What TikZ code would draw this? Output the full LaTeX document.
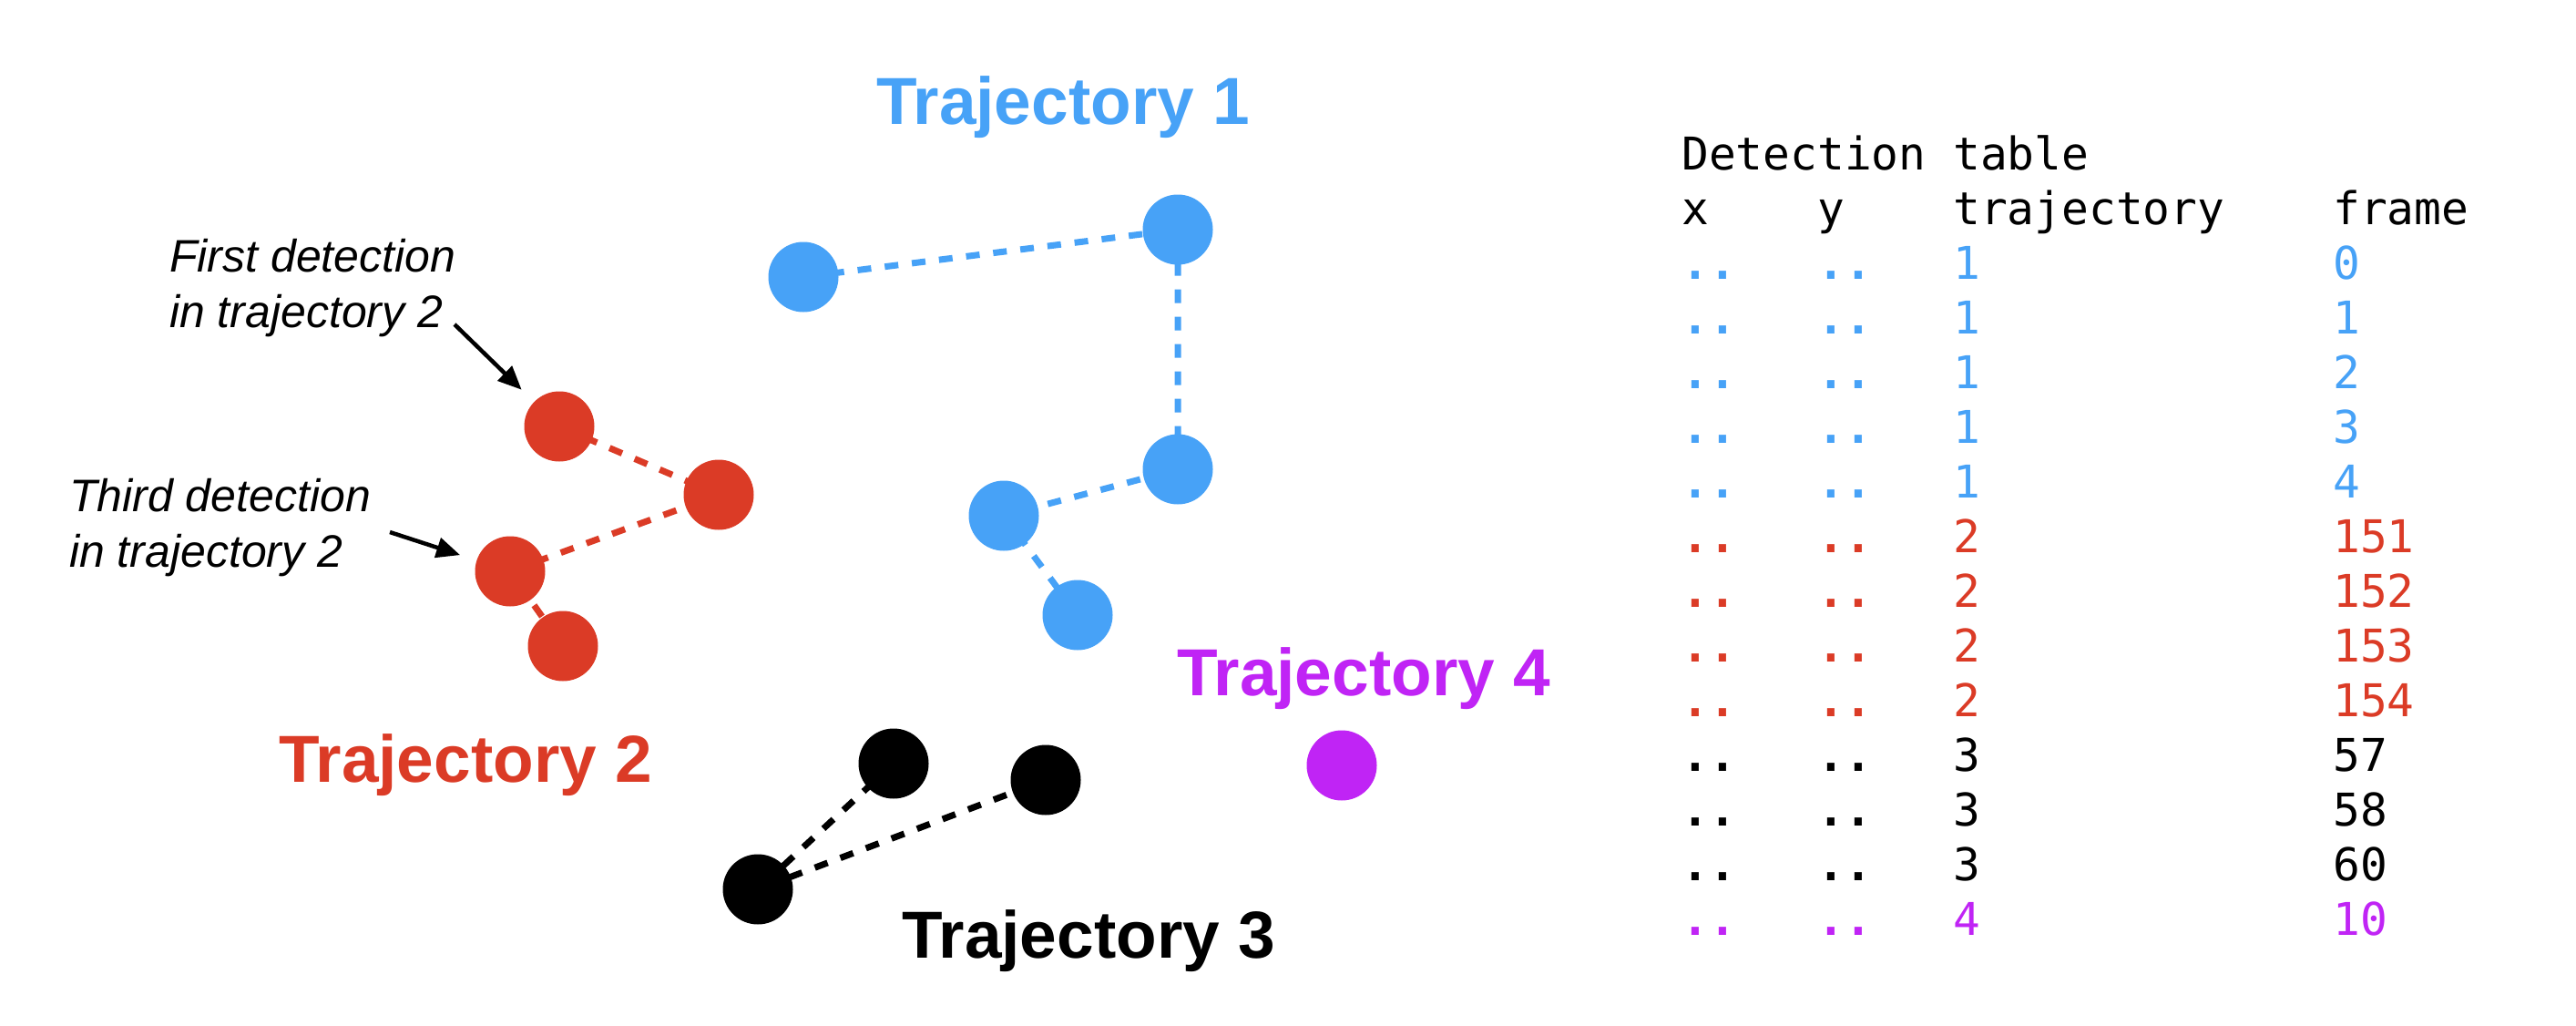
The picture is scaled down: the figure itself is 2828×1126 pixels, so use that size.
\documentclass[tikz,border=0pt]{standalone}
\usepackage{fontspec}
\setmainfont{Liberation Sans}
\newfontfamily\monof{DejaVu Sans Mono}
\usetikzlibrary{arrows.meta}
\definecolor{tblue}{HTML}{47A2F7}
\definecolor{tred}{HTML}{DB3B26}
\definecolor{tblack}{HTML}{000000}
\definecolor{tpurple}{HTML}{C024F5}
\begin{document}
\begin{tikzpicture}[x=1pt,y=-1pt,
  dot/.style={circle, inner sep=0pt, minimum size=77pt},
  link/.style={line width=7pt, dash pattern=on 15pt off 15pt},
  traj/.style={font=\fontsize{73}{88}\selectfont\bfseries, anchor=base, inner sep=0pt},
  note/.style={font=\fontsize{50}{61}\selectfont\itshape, anchor=base west, inner sep=0pt},
  tab/.style={font=\monof\fontsize{49.5}{60}\selectfont, anchor=base west, inner sep=0pt},
  arr/.style={line width=4.5pt, -{Triangle[length=26pt,width=22pt]}, shorten >=19pt}]
\useasboundingbox[fill=white] (0,0) rectangle (2828,1126);

% points
\coordinate (b1c) at (882,304);
\coordinate (b2c) at (1293,252);
\coordinate (b3c) at (1293,515);
\coordinate (b4c) at (1102,566);
\coordinate (b5c) at (1183,675);
\coordinate (r1c) at (614,468);
\coordinate (r2c) at (789,543);
\coordinate (r3c) at (560,627);
\coordinate (r4c) at (618,709);
\coordinate (k1c) at (981,838);
\coordinate (k2c) at (1148,856);
\coordinate (k3c) at (832,976);

% links
\draw[link, tblue] (b1c) -- (b2c) -- (b3c) -- (b4c) -- (b5c);
\draw[link, tred] (r1c) -- (r2c) -- (r3c) -- (r4c);
\draw[link, tblack] (k1c) -- (k3c) -- (k2c);

% dots
\foreach \n in {b1,b2,b3,b4,b5} \node[dot, fill=tblue] (\n) at (\n c) {};
\foreach \n in {r1,r2,r3,r4} \node[dot, fill=tred] (\n) at (\n c) {};
\foreach \n in {k1,k2,k3} \node[dot, fill=tblack] (\n) at (\n c) {};
\node[dot, fill=tpurple] (p1) at (1473,840) {};

% trajectory labels
\node[traj, text=tblue] (t1) at (1167,137) {Trajectory 1};
\node[traj, text=tred] (t2) at (511,858) {Trajectory 2};
\node[traj, text=tblack] (t3) at (1195,1051) {Trajectory 3};
\node[traj, text=tpurple] (t4) at (1497,763) {Trajectory 4};

% annotations
\node[note] (n1a) at (186,298) {First detection};
\node[note] (n1b) at (186,359) {in trajectory 2};
\node[note] (n2a) at (76,561) {Third detection};
\node[note] (n2b) at (76,622) {in trajectory 2};
\coordinate (a1) at (499,356);
\coordinate (a2) at (428,584);
\draw[arr] (a1) -- (r1);
\draw[arr] (a2) -- (r3);

% table
\node[tab] (th) at (1846,186) {Detection table};
\node[tab] (hx) at (1846,246) {x};
\node[tab] (hy) at (1995,246) {y};
\node[tab] (ht) at (2144,246) {trajectory};
\node[tab] (hf) at (2561,246) {frame};
\foreach \c/\t/\f [count=\i] in {tblue/1/0, tblue/1/1, tblue/1/2, tblue/1/3, tblue/1/4,
  tred/2/151, tred/2/152, tred/2/153, tred/2/154,
  tblack/3/57, tblack/3/58, tblack/3/60, tpurple/4/10} {
  \node[tab, text=\c, font=\monof\fontsize{49.5}{60}\selectfont\bfseries] (cx\i) at (1846,{246+60*\i}) {..};
  \node[tab, text=\c, font=\monof\fontsize{49.5}{60}\selectfont\bfseries] (cy\i) at (1995,{246+60*\i}) {..};
  \node[tab, text=\c] (ct\i) at (2144,{246+60*\i}) {\t};
  \node[tab, text=\c] (cf\i) at (2561,{246+60*\i}) {\f};
}
\end{tikzpicture}
\end{document}
